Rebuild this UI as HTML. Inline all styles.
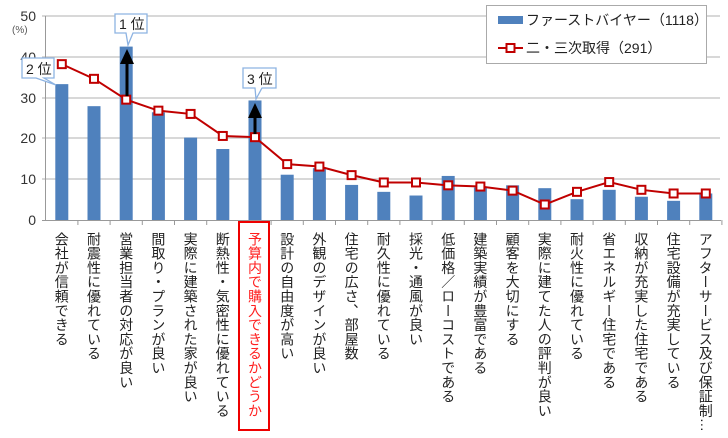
<!DOCTYPE html>
<html><head><meta charset="utf-8">
<style>
html,body{margin:0;padding:0;background:#fff;}
body{width:728px;height:438px;overflow:hidden;position:relative;font-family:"Liberation Sans","Noto Sans CJK JP",sans-serif;}
.lab{position:absolute;top:232px;writing-mode:vertical-rl;font-size:14px;line-height:16px;letter-spacing:0.3px;color:#222;white-space:nowrap;width:16px;}
</style></head><body>
<svg width="728" height="438" style="position:absolute;left:0;top:0" font-family="Liberation Sans, Noto Sans CJK JP, sans-serif">
<g stroke="#c0c0c0" stroke-width="1.2">
<line x1="42" y1="16" x2="720" y2="16"/>
<line x1="42" y1="57" x2="720" y2="57"/>
<line x1="42" y1="98" x2="720" y2="98"/>
<line x1="42" y1="138" x2="720" y2="138"/>
<line x1="42" y1="179" x2="720" y2="179"/>
</g>
<line x1="45.5" y1="16" x2="45.5" y2="220" stroke="#999"/>
<line x1="42" y1="220.5" x2="721" y2="220.5" stroke="#999"/>
<g id="ticks" stroke="#999"></g>
<g font-size="14" fill="#333" text-anchor="end">
<text x="36" y="21">50</text>
<text x="36" y="62">40</text>
<text x="36" y="103">30</text>
<text x="36" y="143">20</text>
<text x="36" y="184">10</text>
<text x="36" y="225">0</text>
</g>
<text x="12" y="33" font-size="10" fill="#555">(%)</text>
<g id="bars" fill="#4f81bd"></g>
<g id="line"></g>
<line x1="127" y1="96" x2="127" y2="62" stroke="#000" stroke-width="3"/>
<polygon points="120,64 134,64 127,49" fill="#000"/>
<line x1="255" y1="134" x2="255" y2="116" stroke="#000" stroke-width="3"/>
<polygon points="248,118 262,118 255,103" fill="#000"/>
<g fill="#fff" stroke="#8db3e2" stroke-width="1.3">
<path d="M115,14 H147 V33 H133 L128,45 L126,33 H115 Z"/>
<path d="M22,58 H54 V78 H44 L56,85 L36,78 H22 Z"/>
<path d="M243,68 H276 V88 H262 L256,99 L255,88 H243 Z"/>
</g>
<g font-size="14" fill="#222">
<text x="119" y="29">1 位</text>
<text x="26" y="74">2 位</text>
<text x="247" y="84">3 位</text>
</g>
<rect x="486.5" y="5.5" width="220" height="58" fill="#fff" stroke="#aaa"/>
<rect x="498" y="16" width="25" height="8" fill="#4f81bd"/>
<text x="526" y="25" font-size="14" fill="#222">ファーストバイヤー（1118）</text>
<line x1="498" y1="48" x2="523" y2="48" stroke="#c00000" stroke-width="2"/>
<rect x="506.5" y="44" width="8" height="8" fill="#fff" stroke="#c00000" stroke-width="2"/>
<text x="526" y="53" font-size="14" fill="#222">二・三次取得（291）</text>
<rect x="239" y="222" width="30" height="208" fill="none" stroke="#e00" stroke-width="2"/>
</svg>
<div id="labels"></div>
<script>
var bars=[33.3,27.9,42.5,26.4,20.2,17.4,29.3,11.1,12.7,8.6,6.9,6.0,10.8,8.0,8.5,7.8,5.1,7.4,5.7,4.7,6.5];
var ln=[38.2,34.6,29.5,26.8,26.0,20.6,20.3,13.7,13.1,11.0,9.2,9.2,8.5,8.2,7.2,3.8,6.9,9.3,7.4,6.5,6.5];
var labs=["会社が信頼できる","耐震性に優れている","営業担当者の対応が良い","間取り・プランが良い","実際に建築された家が良い","断熱性・気密性に優れている","予算内で購入できるかどうか","設計の自由度が高い","外観のデザインが良い","住宅の広さ、部屋数","耐久性に優れている","採光・通風が良い","低価格／ローコストである","建築実績が豊富である","顧客を大切にする","実際に建てた人の評判が良い","耐火性に優れている","省エネルギー住宅である","収納が充実した住宅である","住宅設備が充実している","アフターサービス及び保証制…"];
var ns="http://www.w3.org/2000/svg";
function Y(v){return 220-v*4.08;}
function X(i){return 45.7+32.2*(i+0.5);}
var bg=document.getElementById('bars'),lg=document.getElementById('line'),tg=document.getElementById('ticks');
var pts=[];
for(var i=0;i<21;i++){
 var r=document.createElementNS(ns,'rect');
 r.setAttribute('x',X(i)-6.5);r.setAttribute('y',Y(bars[i]));r.setAttribute('width',13);r.setAttribute('height',220-Y(bars[i]));
 bg.appendChild(r);
 pts.push(X(i)+','+Y(ln[i]));
 var t=document.createElementNS(ns,'line');
 var tx=45.7+32.2*(i+1);t.setAttribute('x1',tx);t.setAttribute('x2',tx);t.setAttribute('y1',220);t.setAttribute('y2',225);tg.appendChild(t);
}
var pl=document.createElementNS(ns,'polyline');
pl.setAttribute('points',pts.join(' '));pl.setAttribute('fill','none');pl.setAttribute('stroke','#c00000');pl.setAttribute('stroke-width','2');
lg.appendChild(pl);
for(var i=0;i<21;i++){
 var m=document.createElementNS(ns,'rect');
 m.setAttribute('x',X(i)-4);m.setAttribute('y',Y(ln[i])-4);m.setAttribute('width',8);m.setAttribute('height',8);
 m.setAttribute('fill','#fff');m.setAttribute('stroke','#c00000');m.setAttribute('stroke-width','2');
 lg.appendChild(m);
}
var L=document.getElementById('labels');
for(var i=0;i<21;i++){
 var d=document.createElement('div');d.className='lab';
 d.style.left=(X(i)-8)+'px';d.textContent=labs[i];
 if(i==6)d.style.color='#ff2020';
 L.appendChild(d);
}
</script>
</body></html>
